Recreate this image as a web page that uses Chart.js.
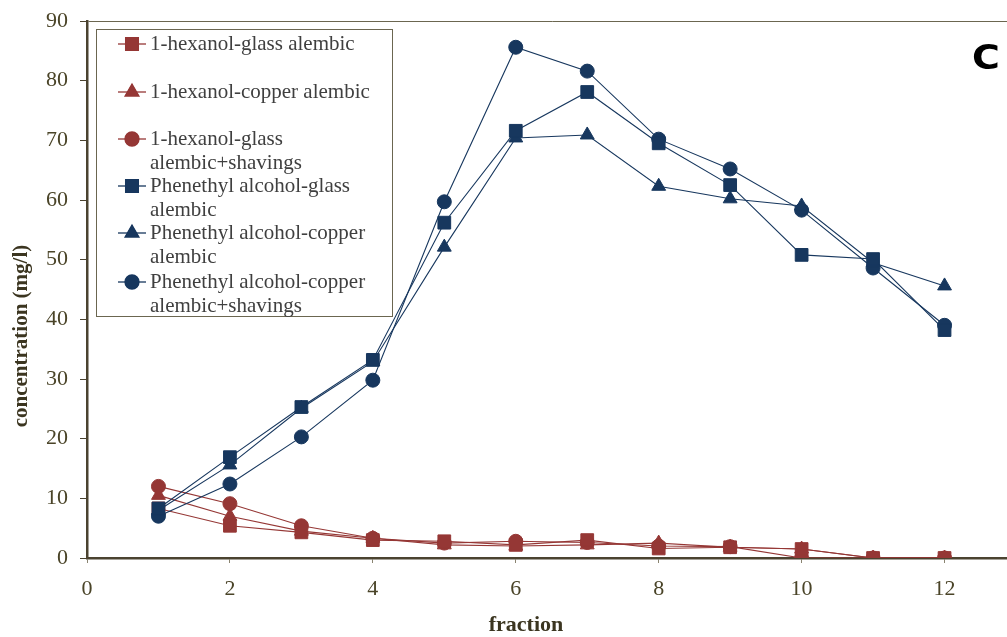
<!DOCTYPE html>
<html>
<head>
<meta charset="utf-8">
<script src="https://cdn.jsdelivr.net/npm/chart.js@4/dist/chart.umd.min.js"></script>
<style>
  html, body { margin: 0; padding: 0; background: #fff; overflow: hidden; }
  #wrap { width: 1026px; height: 637px; }
</style>
</head>
<body>
<div id="wrap"><canvas id="fractionChart"></canvas></div>
<script>
// fraction numbers and concentrations (mg/l)
const fractions = [1, 2, 3, 4, 5, 6, 7, 8, 9, 10, 11, 12];
const hexanolGlass = [8.3, 5.4, 4.3, 3.0, 2.8, 2.2, 3.0, 1.6, 1.8, 1.5, 0, 0];
const hexanolCopper = [10.5, 7.0, 4.5, 3.3, 2.2, 2.0, 2.2, 2.5, 1.8, 1.5, 0, 0];
const hexanolShavings = [12.0, 9.1, 5.4, 3.3, 2.5, 2.8, 2.6, 2.0, 1.9, 0, 0, 0];
const pheGlass = [8.3, 16.9, 25.3, 33.2, 56.2, 71.6, 78.1, 69.5, 62.5, 50.8, 50.1, 38.2];
const pheCopper = [8.0, 15.6, 25.1, 32.9, 52.1, 70.4, 70.9, 62.3, 60.2, 59.0, 49.5, 45.6];
const pheShavings = [7.0, 12.4, 20.3, 29.8, 59.7, 85.6, 81.6, 70.2, 65.2, 58.3, 48.6, 39.0];

const legendLines = [
    ['1-hexanol-glass alembic'],
    ['1-hexanol-copper alembic'],
    ['1-hexanol-glass', 'alembic+shavings'],
    ['Phenethyl alcohol-glass', 'alembic'],
    ['Phenethyl alcohol-copper', 'alembic'],
    ['Phenethyl alcohol-copper', 'alembic+shavings']
];
const xTicks = [0, 2, 4, 6, 8, 10, 12];

const RED = '#953735';
const BLUE = '#17375e';
const AXIS = '#4b4330';
const TEXT = '#4a4428';
const TITLE = '#3b3520';

function series(label, values, color, style, radius, order) {
    return {
        label: label,
        data: values.map((v, i) => ({ x: fractions[i], y: v })),
        borderColor: color,
        backgroundColor: color,
        borderWidth: 1.1,
        pointStyle: style,
        pointRadius: radius,
        pointBorderWidth: 1,
        pointBorderColor: color,
        pointBackgroundColor: color,
        tension: 0,
        order: order
    };
}

// legend box, axis titles and the panel letter
const extrasPlugin = {
    id: 'extras',
    afterDraw(chart) {
        const ctx = chart.ctx;
        ctx.save();
        ctx.strokeStyle = '#6b6650';
        ctx.lineWidth = 1;
        ctx.strokeRect(96.5, 29.5, 296, 287);

        const rows = [44, 92, 139, 186, 233, 282];
        ctx.font = '21px "Liberation Serif"';
        ctx.textBaseline = 'middle';
        chart.data.datasets.forEach((ds, i) => {
            const y = rows[i];
            ctx.strokeStyle = ds.borderColor;
            ctx.lineWidth = 1.3;
            ctx.beginPath();
            ctx.moveTo(118, y);
            ctx.lineTo(146, y);
            ctx.stroke();
            ctx.fillStyle = ds.borderColor;
            Chart.helpers.drawPoint(ctx, {
                pointStyle: ds.pointStyle,
                radius: ds.pointRadius,
                borderWidth: 1
            }, 132, y);
            ctx.fill();
            ctx.fillStyle = '#3f3f3f';
            legendLines[i].forEach((t, k) => ctx.fillText(t, 150, y + k * 24));
        });

        // axis titles
        ctx.fillStyle = TITLE;
        ctx.font = 'bold 22px "Liberation Serif"';
        ctx.textAlign = 'center';
        ctx.fillText('fraction', 526, 625);
        ctx.save();
        ctx.translate(22, 336);
        ctx.rotate(-Math.PI / 2);
        ctx.font = 'bold 21px "Liberation Serif"';
        ctx.fillText('concentration (mg/l)', 0, 0);
        ctx.restore();

        // panel letter, slightly widened
        ctx.fillStyle = '#000';
        ctx.font = 'bold 33px "DejaVu Sans"';
        ctx.textAlign = 'left';
        ctx.textBaseline = 'alphabetic';
        ctx.translate(972, 69);
        ctx.scale(1.15, 1);
        ctx.fillText('C', 0, 0);
        ctx.restore();
    }
};

const ctx = document.getElementById('fractionChart').getContext('2d');
new Chart(ctx, {
    type: 'line',
    data: {
        datasets: [
            series('1-hexanol-glass alembic', hexanolGlass, RED, 'rect', 9, 2),
            series('1-hexanol-copper alembic', hexanolCopper, RED, 'triangle', 8, 3),
            series('1-hexanol-glass alembic+shavings', hexanolShavings, RED, 'circle', 7, 4),
            series('Phenethyl alcohol-glass alembic', pheGlass, BLUE, 'rect', 9, 1),
            series('Phenethyl alcohol-copper alembic', pheCopper, BLUE, 'triangle', 8, 1),
            series('Phenethyl alcohol-copper alembic+shavings', pheShavings, BLUE, 'circle', 7, 1)
        ]
    },
    options: {
        responsive: true,
        maintainAspectRatio: false,
        animation: false,
        layout: { padding: { top: 21, right: 0, left: 0, bottom: 0 } },
        plugins: {
            legend: { display: false },
            tooltip: { enabled: false }
        },
        scales: {
            x: {
                type: 'linear',
                min: 0,
                max: 13,
                afterBuildTicks: axis => { axis.ticks = xTicks.map(v => ({ value: v })); },
                afterFit: axis => {
                    axis.height = 79;
                    axis.paddingLeft = 0;
                    axis.paddingRight = 0;
                },
                border: { color: AXIS, width: 2.5 },
                grid: { display: true, drawOnChartArea: false, tickLength: 5, tickColor: '#8a8470' },
                ticks: {
                    color: TEXT,
                    padding: 13,
                    maxRotation: 0,
                    font: { family: '"Liberation Serif"', size: 22 }
                }
            },
            y: {
                min: 0,
                max: 90,
                ticks: {
                    stepSize: 10,
                    color: TEXT,
                    padding: 12,
                    font: { family: '"Liberation Serif"', size: 22 }
                },
                afterFit: axis => {
                    axis.width = 87;
                    axis.paddingTop = 0;
                    axis.paddingBottom = 0;
                },
                border: { color: AXIS, width: 2.5 },
                grid: {
                    drawOnChartArea: true,
                    color: c => (c.tick && c.tick.value === 90 ? '#6b6650' : 'rgba(0,0,0,0)'),
                    tickLength: 7,
                    tickColor: AXIS
                }
            }
        }
    },
    plugins: [extrasPlugin]
});
</script>
</body>
</html>
